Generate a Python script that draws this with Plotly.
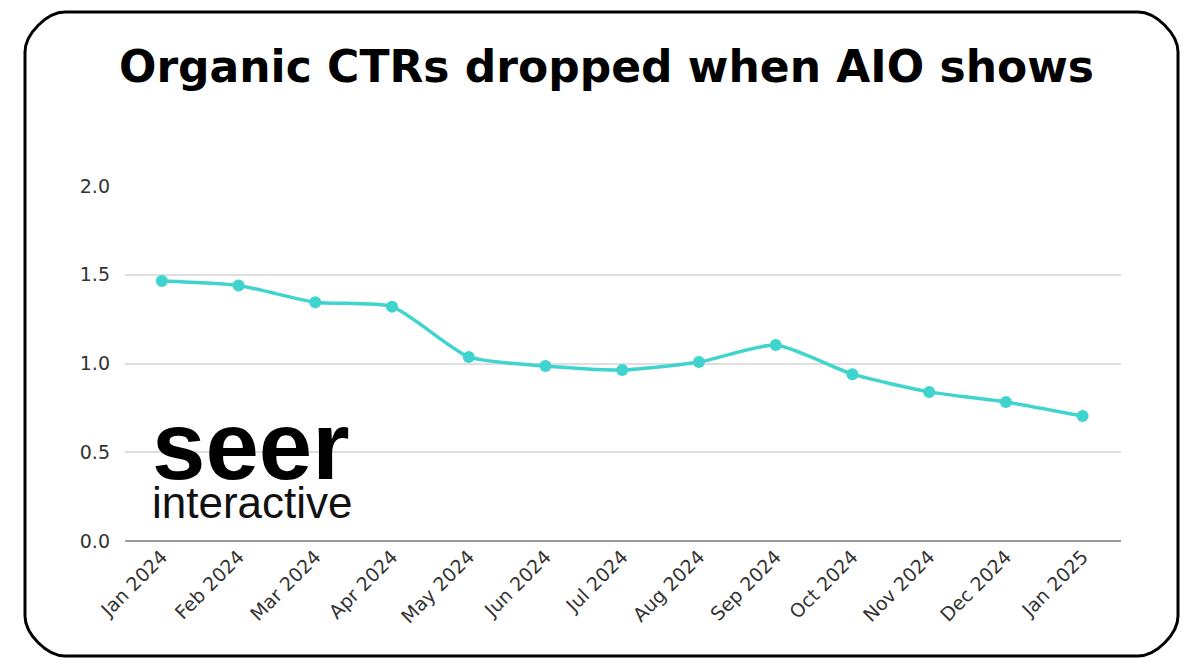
import plotly.graph_objects as go

months = ["Jan 2024", "Feb 2024", "Mar 2024", "Apr 2024", "May 2024", "Jun 2024",
          "Jul 2024", "Aug 2024", "Sep 2024", "Oct 2024", "Nov 2024", "Dec 2024", "Jan 2025"]
ctr = [1.465, 1.44, 1.345, 1.32, 1.037, 0.986, 0.963, 1.008, 1.104, 0.94, 0.84, 0.783, 0.704]
y_ticks = [0.0, 0.5, 1.0, 1.5, 2.0]

W, H = 1193, 658
PL, PR, PT, PB = 125, 1121, 186, 541  # plot area in pixels

def px(x):
    return (x - PL) / (PR - PL)

def py(y):
    return (PB - y) / (PB - PT)

fig = go.Figure()
fig.add_trace(go.Scatter(
    x=months, y=ctr, mode="lines+markers",
    line=dict(color="#40D4CF", width=3.5, shape="spline", smoothing=0.6),
    marker=dict(color="#40D4CF", size=12),
    hoverinfo="x+y", showlegend=False,
))

# rounded card border
L, T, R, B, r = 25, 12, 1178, 656, 40
k = 0.45 * r
path = (
    f"M {px(L)},{py(T + r)} "
    f"C {px(L)},{py(T + r - k)} {px(L + r - k)},{py(T)} {px(L + r)},{py(T)} "
    f"L {px(R - r)},{py(T)} "
    f"C {px(R - r + k)},{py(T)} {px(R)},{py(T + r - k)} {px(R)},{py(T + r)} "
    f"L {px(R)},{py(B - r)} "
    f"C {px(R)},{py(B - r + k)} {px(R - r + k)},{py(B)} {px(R - r)},{py(B)} "
    f"L {px(L + r)},{py(B)} "
    f"C {px(L + r - k)},{py(B)} {px(L)},{py(B - r + k)} {px(L)},{py(B - r)} Z"
)
fig.add_shape(type="path", path=path, xref="paper", yref="paper",
              line=dict(color="#000000", width=3), layer="above")

fig.add_annotation(text="<b>Organic CTRs dropped when AIO shows</b>",
                   x=px(606), y=py(66), xref="paper", yref="paper",
                   showarrow=False, xanchor="center", yanchor="middle",
                   font=dict(family="DejaVu Sans", size=44, color="#000000"))

logo = ("<span style='font-size:96px;color:#000000'><b>seer</b></span><br>"
        "<span style='font-size:44px;color:#111111'>interactive</span>")
fig.add_annotation(text=logo, x=px(150), y=py(459), xref="paper", yref="paper",
                   showarrow=False, xanchor="left", yanchor="middle", align="left",
                   font=dict(family="Liberation Sans", size=30, color="#000000"))

fig.update_layout(
    width=W, height=H,
    margin=dict(l=PL, r=W - PR, t=PT, b=H - PB, pad=0),
    paper_bgcolor="#ffffff", plot_bgcolor="#ffffff",
    font=dict(family="DejaVu Sans", color="#333333"),
    xaxis=dict(type="category", range=[-0.48, 12.5], showgrid=False, zeroline=False,
               showline=False, ticks="", tickangle=-45,
               tickfont=dict(size=19, color="#333333"), fixedrange=True),
    yaxis=dict(range=[0, 2.0], tickvals=y_ticks, tickformat=".1f",
               showgrid=True, gridcolor="#dedede", gridwidth=1.5,
               zeroline=True, zerolinecolor="#9a9a9a", zerolinewidth=1.5,
               showline=False, ticks="", ticklabelstandoff=14,
               tickfont=dict(size=19, color="#333333"), fixedrange=True),
)

fig.write_html("out.html")
